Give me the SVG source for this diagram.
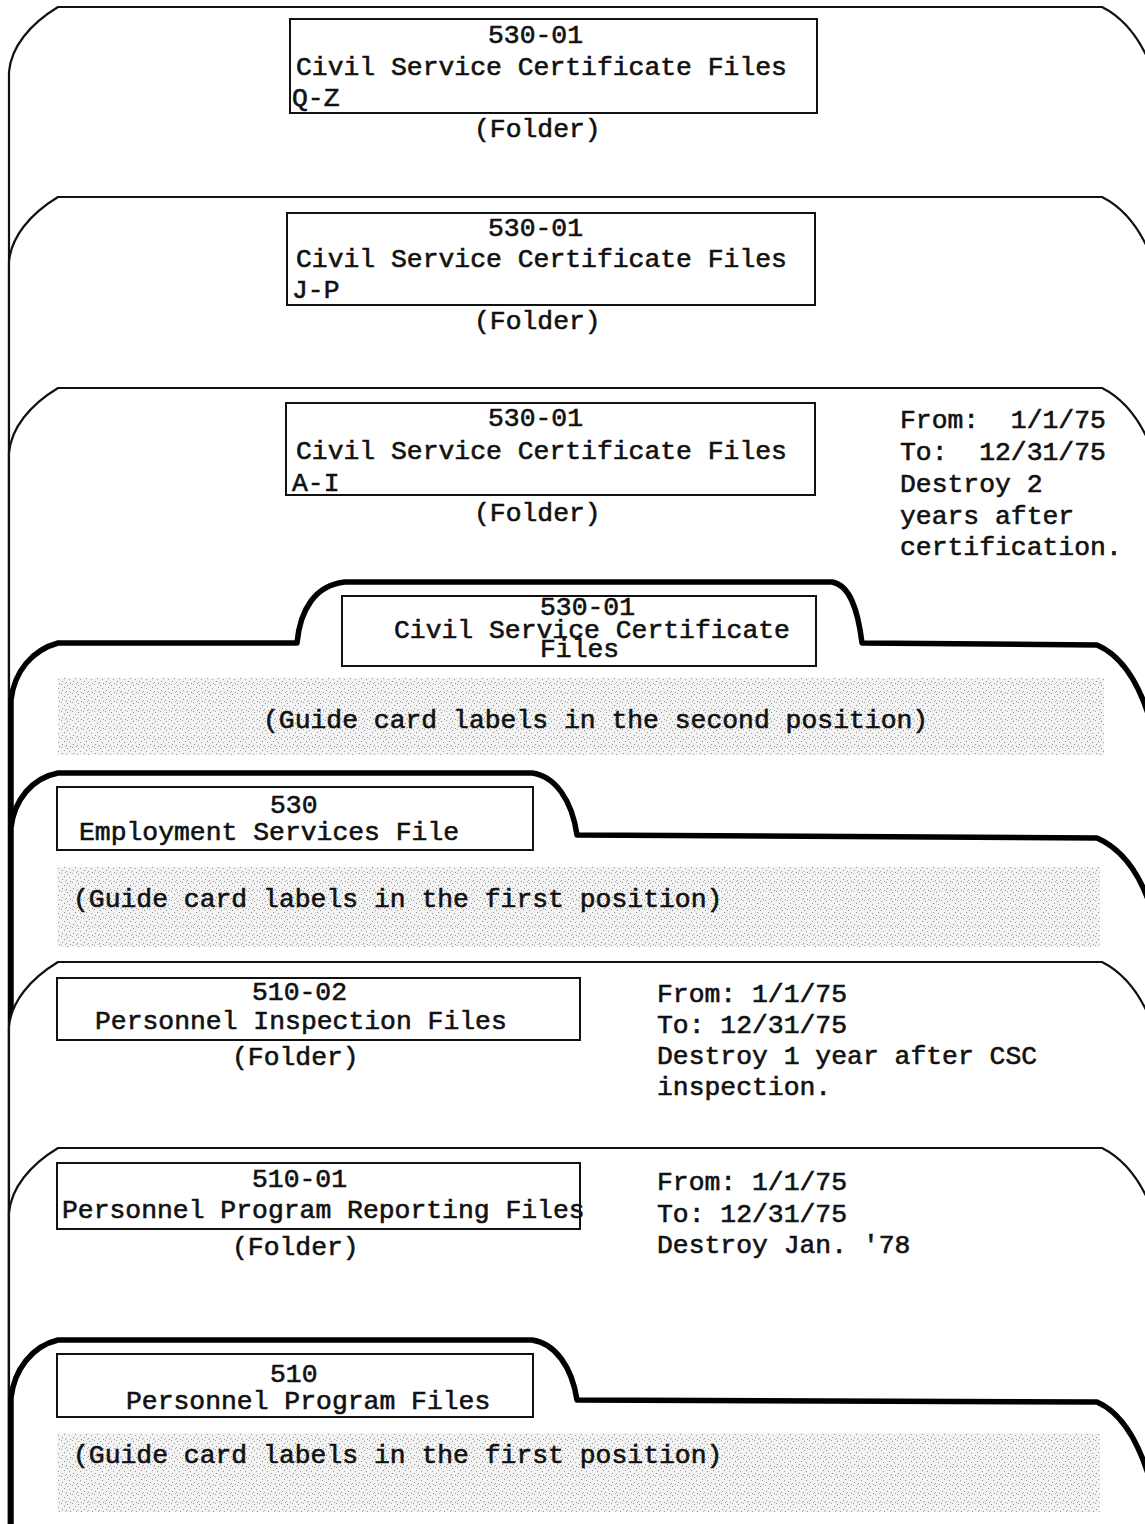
<svg xmlns="http://www.w3.org/2000/svg" width="1145" height="1524" viewBox="0 0 1145 1524">
<defs>
<pattern id="stip" width="11" height="9" patternUnits="userSpaceOnUse">
<rect width="11" height="9" fill="#f3f3f3"/>
<rect x="1" y="1" width="1" height="1" fill="#8a8a8a"/>
<rect x="6" y="0" width="1" height="1" fill="#a0a0a0"/>
<rect x="9" y="3" width="1" height="1" fill="#8a8a8a"/>
<rect x="3" y="4" width="1" height="1" fill="#9a9a9a"/>
<rect x="7" y="6" width="1" height="1" fill="#8a8a8a"/>
<rect x="0" y="7" width="1" height="1" fill="#a0a0a0"/>
<rect x="4" y="8" width="1" height="1" fill="#909090"/>
<rect x="10" y="8" width="1" height="1" fill="#b0b0b0"/>
</pattern>
</defs>
<style>
.folder{fill:#fff;stroke:#111;stroke-width:2.2;stroke-linejoin:round}
.guide{fill:#fff;stroke:#000;stroke-width:5.5;stroke-linejoin:round}
.box{fill:none;stroke:#111;stroke-width:2}
.shade{fill:url(#stip)}
text{font-family:"Liberation Mono","DejaVu Sans Mono",monospace;font-size:26.4px;fill:#111;stroke:#111;stroke-width:0.6}
</style>
<rect width="1145" height="1524" fill="#fff"/>
<g id="connectors"/>

<g id="folder-530-01-QZ">
<path class="folder" d="M9,1600 L9,72 C11,47 30,24 58,7 L1102,7 C1122,17 1137,35 1148,59 L1148,1600 Z"/>
<rect class="box" x="290" y="19" width="527" height="94"/>
<text x="488" y="43">530-01</text>
<text x="296" y="75">Civil Service Certificate Files</text>
<text x="292" y="106">Q-Z</text>
<text x="474" y="137">(Folder)</text>
</g>

<g id="folder-530-01-JP">
<path class="folder" d="M9,1600 L9,262 C11,237 30,214 58,197 L1102,197 C1122,207 1137,225 1148,249 L1148,1600 Z"/>
<rect class="box" x="287" y="213" width="528" height="92"/>
<text x="488" y="236">530-01</text>
<text x="296" y="267">Civil Service Certificate Files</text>
<text x="292" y="298">J-P</text>
<text x="474" y="329">(Folder)</text>
</g>

<g id="folder-530-01-AI">
<path class="folder" d="M9,1600 L9,453 C11,428 30,405 58,388 L1102,388 C1122,398 1137,416 1148,440 L1148,1600 Z"/>
<rect class="box" x="286" y="403" width="529" height="92"/>
<text x="488" y="426">530-01</text>
<text x="296" y="459">Civil Service Certificate Files</text>
<text x="292" y="491">A-I</text>
<text x="474" y="521">(Folder)</text>
<text x="900" y="428" xml:space="preserve">From:  1/1/75</text>
<text x="900" y="460" xml:space="preserve">To:  12/31/75</text>
<text x="900" y="492">Destroy 2</text>
<text x="900" y="524">years after</text>
<text x="900" y="555">certification.</text>
</g>

<g id="guide-530-01">
<path class="guide" d="M11,1600 L11,700 C14,672 32,650 58,643 L297,643 C300,610 315,585 345,582 L832,582 C850,585 858,610 862,643 L1097,645 C1120,655 1138,680 1150,720 L1150,1600 Z"/>
<rect class="shade" x="58" y="678" width="1046" height="77"/>
<rect class="box" x="342" y="596" width="474" height="70"/>
<text x="540" y="615">530-01</text>
<text x="394" y="638">Civil Service Certificate</text>
<text x="540" y="657">Files</text>
<text x="263" y="728">(Guide card labels in the second position)</text>
</g>

<g id="guide-530">
<path class="guide" d="M11,1600 L11,828 C14,800 32,778 58,773 L532,773 C555,776 572,800 577,835 L1097,838 C1120,848 1138,870 1150,905 L1150,1600 Z"/>
<rect class="shade" x="57" y="867" width="1043" height="80"/>
<rect class="box" x="57" y="787" width="476" height="63"/>
<text x="270" y="813">530</text>
<text x="79" y="840">Employment Services File</text>
<text x="73" y="907">(Guide card labels in the first position)</text>
</g>

<g id="folder-510-02">
<path class="folder" d="M9,1600 L9,1027 C11,1002 30,979 58,962 L1102,962 C1122,972 1137,990 1148,1014 L1148,1600 Z"/>
<rect class="box" x="57" y="978" width="523" height="62"/>
<text x="252" y="1000">510-02</text>
<text x="95" y="1029">Personnel Inspection Files</text>
<text x="232" y="1065">(Folder)</text>
<text x="657" y="1002">From: 1/1/75</text>
<text x="657" y="1033">To: 12/31/75</text>
<text x="657" y="1064">Destroy 1 year after CSC</text>
<text x="657" y="1095">inspection.</text>
</g>

<g id="folder-510-01">
<path class="folder" d="M9,1600 L9,1213 C11,1188 30,1165 58,1148 L1102,1148 C1122,1158 1137,1176 1148,1200 L1148,1600 Z"/>
<rect class="box" x="57" y="1163" width="523" height="66"/>
<text x="252" y="1187">510-01</text>
<text x="62" y="1218">Personnel Program Reporting Files</text>
<text x="232" y="1255">(Folder)</text>
<text x="657" y="1190">From: 1/1/75</text>
<text x="657" y="1222">To: 12/31/75</text>
<text x="657" y="1253">Destroy Jan. '78</text>
</g>

<g id="guide-510">
<path class="guide" d="M11,1600 L11,1398 C14,1370 32,1346 58,1340 L532,1340 C555,1343 572,1367 577,1400 L1097,1402 C1120,1412 1138,1440 1150,1480 L1150,1600 Z"/>
<rect class="shade" x="57" y="1433" width="1043" height="79"/>
<rect class="box" x="57" y="1354" width="476" height="63"/>
<text x="270" y="1382">510</text>
<text x="126" y="1409">Personnel Program Files</text>
<text x="73" y="1463">(Guide card labels in the first position)</text>
</g>
</svg>
